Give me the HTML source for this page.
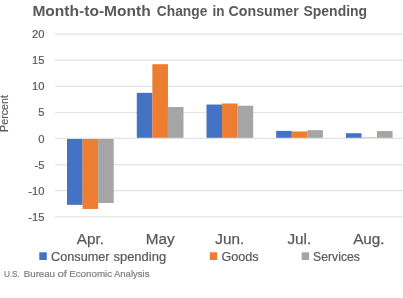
<!DOCTYPE html>
<html><head><meta charset="utf-8">
<style>
html,body{margin:0;padding:0;background:#fff;}
body{width:403px;height:298px;overflow:hidden;position:relative;font-family:"Liberation Sans",sans-serif;}
svg{position:absolute;left:0;top:0;will-change:transform;}
</style></head>
<body>
<svg width="403" height="298" viewBox="0 0 403 298" font-family="Liberation Sans, sans-serif">
  <rect width="403" height="298" fill="#fff"/>
  <g font-size="14" font-weight="bold" fill="#595959">
    <text x="32.4" y="15.8" textLength="118.3" lengthAdjust="spacingAndGlyphs">Month-to-Month</text>
    <text x="156.8" y="15.8" textLength="50.5" lengthAdjust="spacingAndGlyphs">Change</text>
    <text x="212.4" y="15.8" textLength="12.0" lengthAdjust="spacingAndGlyphs">in</text>
    <text x="228.6" y="15.8" textLength="70.1" lengthAdjust="spacingAndGlyphs">Consumer</text>
    <text x="303.5" y="15.8" textLength="63.6" lengthAdjust="spacingAndGlyphs">Spending</text>
  </g>
  <g stroke="#e3e3e3" stroke-width="1.2">
    <line x1="55" y1="34.1" x2="403" y2="34.1"/>
    <line x1="55" y1="60.3" x2="403" y2="60.3"/>
    <line x1="55" y1="86.4" x2="403" y2="86.4"/>
    <line x1="55" y1="112.5" x2="403" y2="112.5"/>
    <line x1="55" y1="164.6" x2="403" y2="164.6"/>
    <line x1="55" y1="190.7" x2="403" y2="190.7"/>
    <line x1="55" y1="216.8" x2="403" y2="216.8"/>
  </g>
  <g font-size="11.2" fill="#595959" stroke="#595959" stroke-width="0.2" text-anchor="end">
    <text x="44.4" y="38.1">20</text>
    <text x="44.4" y="64.2">15</text>
    <text x="44.4" y="90.3">10</text>
    <text x="44.4" y="116.4">5</text>
    <text x="44.4" y="142.5">0</text>
    <text x="44.4" y="168.6">-5</text>
    <text x="44.4" y="194.7">-10</text>
    <text x="44.4" y="220.8">-15</text>
  </g>
  <text transform="translate(8.4,132) rotate(-90)" font-size="10.2" fill="#595959" stroke="#595959" stroke-width="0.15" textLength="37" lengthAdjust="spacingAndGlyphs">Percent</text>
  <g>
    <rect x="67.00" y="138.45" width="15.60" height="66.40" fill="#4472c4"/>
    <rect x="82.55" y="138.45" width="15.60" height="70.47" fill="#ed7d31"/>
    <rect x="98.10" y="138.45" width="15.60" height="64.52" fill="#a5a5a5"/>
    <rect x="136.80" y="92.83" width="15.60" height="45.62" fill="#4472c4"/>
    <rect x="152.35" y="64.22" width="15.60" height="74.23" fill="#ed7d31"/>
    <rect x="167.90" y="107.03" width="15.60" height="31.42" fill="#a5a5a5"/>
    <rect x="206.50" y="104.52" width="15.60" height="33.93" fill="#4472c4"/>
    <rect x="222.05" y="103.48" width="15.60" height="34.97" fill="#ed7d31"/>
    <rect x="237.60" y="105.72" width="15.60" height="32.73" fill="#a5a5a5"/>
    <rect x="276.20" y="130.88" width="15.60" height="7.57" fill="#4472c4"/>
    <rect x="291.75" y="131.46" width="15.60" height="6.99" fill="#ed7d31"/>
    <rect x="307.30" y="130.15" width="15.60" height="8.30" fill="#a5a5a5"/>
    <rect x="345.90" y="133.23" width="15.60" height="5.22" fill="#4472c4"/>
    <rect x="361.45" y="137.51" width="15.60" height="0.94" fill="#ed7d31"/>
    <rect x="377.00" y="131.04" width="15.60" height="7.41" fill="#a5a5a5"/>
  </g>
  <line x1="55" y1="138.35" x2="403" y2="138.35" stroke="#e3e3e3" stroke-width="1.2"/>
  <g font-size="15.3" fill="#595959" stroke="#595959" stroke-width="0.25" text-anchor="middle">
    <text x="90.3" y="243.8">Apr.</text>
    <text x="160.3" y="243.8">May</text>
    <text x="229.8" y="243.8">Jun.</text>
    <text x="299.3" y="243.8">Jul.</text>
    <text x="368.9" y="243.8">Aug.</text>
  </g>
  <rect x="39.3" y="252.3" width="7.5" height="7.7" fill="#4472c4"/>
  <rect x="209.8" y="252.3" width="7.4" height="7.7" fill="#ed7d31"/>
  <rect x="301.7" y="252.3" width="7.4" height="7.7" fill="#a5a5a5"/>
  <g font-size="12.5" fill="#595959" stroke="#595959" stroke-width="0.2">
    <text x="51.0" y="260.9" textLength="58.6" lengthAdjust="spacingAndGlyphs">Consumer</text>
    <text x="113.4" y="260.9" textLength="52.8" lengthAdjust="spacingAndGlyphs">spending</text>
    <text x="221.5" y="260.9" textLength="37.2" lengthAdjust="spacingAndGlyphs">Goods</text>
    <text x="313.1" y="260.9" textLength="46.9" lengthAdjust="spacingAndGlyphs">Services</text>
  </g>
  <g font-size="9.6" fill="#7f7f7f" stroke="#7f7f7f" stroke-width="0.2">
    <text x="3.9" y="276.8" textLength="16.0" lengthAdjust="spacingAndGlyphs">U.S.</text>
    <text x="23.8" y="276.8" textLength="31.2" lengthAdjust="spacingAndGlyphs">Bureau</text>
    <text x="57.6" y="276.8" textLength="9.4" lengthAdjust="spacingAndGlyphs">of</text>
    <text x="69.2" y="276.8" textLength="43.0" lengthAdjust="spacingAndGlyphs">Economic</text>
    <text x="114.0" y="276.8" textLength="35.4" lengthAdjust="spacingAndGlyphs">Analysis</text>
  </g>
</svg>
</body></html>
